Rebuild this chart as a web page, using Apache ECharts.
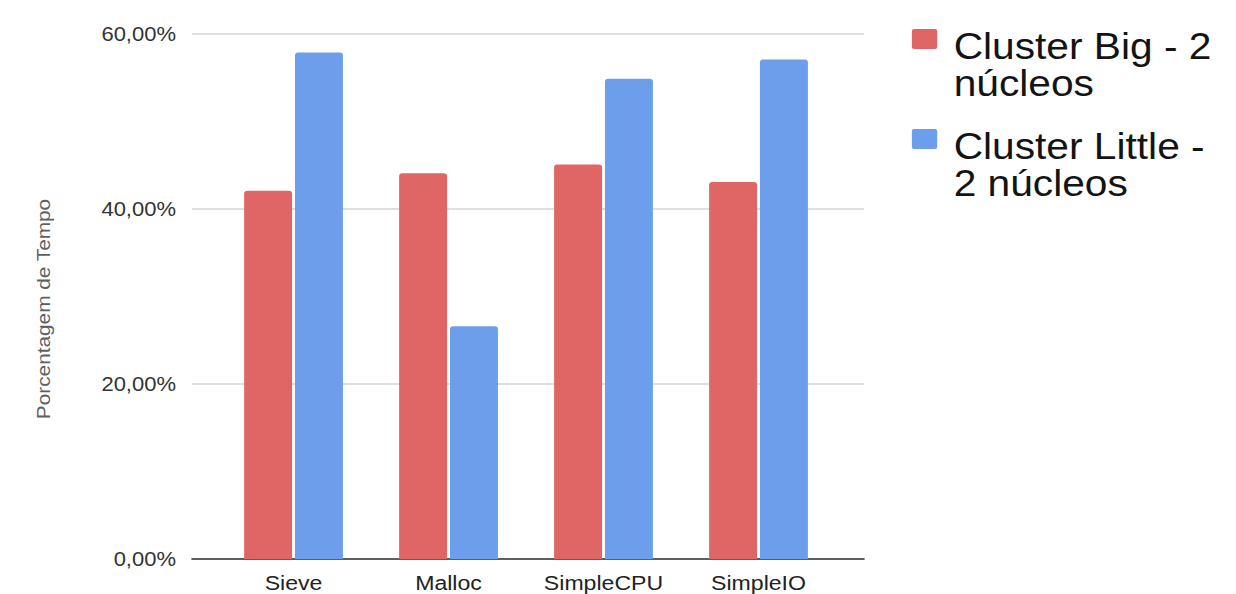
<!DOCTYPE html>
<html>
<head>
<meta charset="utf-8">
<script src="https://cdn.jsdelivr.net/npm/echarts@6/dist/echarts.min.js"></script>
<style>
  html, body { margin: 0; padding: 0; background: #fff; overflow: hidden; }
  #wrap { width: 1236px; height: 594px; overflow: hidden; }
  /* the chart is laid out 10% narrower and widened back, giving the text its wide look */
  #chart { width: 1124px; height: 594px; transform: scaleX(1.1); transform-origin: 0 0; }
</style>
</head>
<body>
<div id="wrap"><div id="chart"></div></div>
<script>
// Benchmarks and share of execution time per cluster
const categories = ['Sieve', 'Malloc', 'SimpleCPU', 'SimpleIO'];
const seriesNames = ['Cluster Big - 2 núcleos', 'Cluster Little - 2 núcleos'];
const legendLines = {
  'Cluster Big - 2 núcleos': ['Cluster Big - 2', 'núcleos'],
  'Cluster Little - 2 núcleos': ['Cluster Little -', '2 núcleos']
};
const bigValues = [42.1, 44.1, 45.1, 43.1];
const littleValues = [57.9, 26.6, 54.9, 57.1];
const yTicks = [0, 20, 40, 60];
const yTitle = 'Porcentagem de Tempo';

const RED = '#e06666';
const BLUE = '#6d9eeb';
const FONT = '"Liberation Sans", Arial, sans-serif';

const chart = echarts.init(document.getElementById('chart'), null, { renderer: 'svg', width: 1124, height: 594 });

function pct(v) {
  return v.toFixed(2).replace('.', ',') + '%';
}

// square swatch sitting at the top of a taller box, so it lines up with the first text line
const SWATCH = 'path://M2,0H21Q23,0,23,2V18Q23,20,21,20H2Q0,20,0,18V2Q0,0,2,0ZM0,34L0.01,34';

function legendFor(name, top) {
  return {
    data: [name],
    orient: 'vertical',
    left: 829,
    top: top,
    padding: 0,
    itemWidth: 23,
    itemHeight: 34,
    icon: SWATCH,
    selectedMode: false,
    formatter: n => '\n' + legendLines[n].join('\n'),
    textStyle: {
      fontFamily: FONT,
      fontSize: 37,
      lineHeight: 37,
      color: '#141414',
      padding: [0, 0, 0, 10]
    }
  };
}

const option = {
  backgroundColor: '#fff',
  animation: false,
  legend: [legendFor(seriesNames[0], -9.5), legendFor(seriesNames[1], 90.5)],
  grid: [
    // frame: gridlines, baseline and y labels
    { left: 174.5, width: 611, top: 34, height: 525 },
    // bars
    { left: 196.4, width: 563.6, top: 34, height: 525 }
  ],
  graphic: [
    {
      type: 'text',
      x: 40.5,
      y: 309,
      rotation: Math.PI / 2,
      scaleX: 1.3,
      style: {
        text: yTitle,
        font: '16px "Liberation Sans", Arial, sans-serif',
        fill: '#5f5f5f',
        align: 'center',
        verticalAlign: 'middle'
      }
    }
  ],
  xAxis: [
    {
      type: 'value', gridIndex: 0, min: 0, max: 1,
      axisLine: { show: true, lineStyle: { color: '#333', width: 1.5 } },
      axisTick: { show: false },
      axisLabel: { show: false },
      splitLine: { show: false }
    },
    {
      type: 'category', gridIndex: 1, data: categories,
      axisLine: { show: false },
      axisTick: { show: false },
      axisLabel: { interval: 0, hideOverlap: false, fontFamily: FONT, fontSize: 21, color: '#222', margin: 13 }
    }
  ],
  yAxis: [
    {
      type: 'value', gridIndex: 0,
      min: yTicks[0], max: yTicks[yTicks.length - 1], interval: 20,
      axisLine: { show: false },
      axisTick: { show: false },
      axisLabel: { fontFamily: FONT, fontSize: 20, color: '#333', margin: 14.5, formatter: pct },
      splitLine: { lineStyle: { color: '#d4d4d4', width: 1.5 } }
    },
    {
      type: 'value', gridIndex: 1,
      min: yTicks[0], max: yTicks[yTicks.length - 1],
      show: false,
      splitLine: { show: false }
    }
  ],
  series: [
    {
      name: seriesNames[0], type: 'bar',
      xAxisIndex: 1, yAxisIndex: 1,
      data: bigValues,
      barWidth: 43.6, barGap: '6%',
      itemStyle: { color: RED, borderRadius: [3, 3, 0, 0] }
    },
    {
      name: seriesNames[1], type: 'bar',
      xAxisIndex: 1, yAxisIndex: 1,
      data: littleValues,
      barWidth: 43.6, barGap: '6%',
      itemStyle: { color: BLUE, borderRadius: [3, 3, 0, 0] }
    }
  ]
};

chart.setOption(option);
</script>
</body>
</html>
